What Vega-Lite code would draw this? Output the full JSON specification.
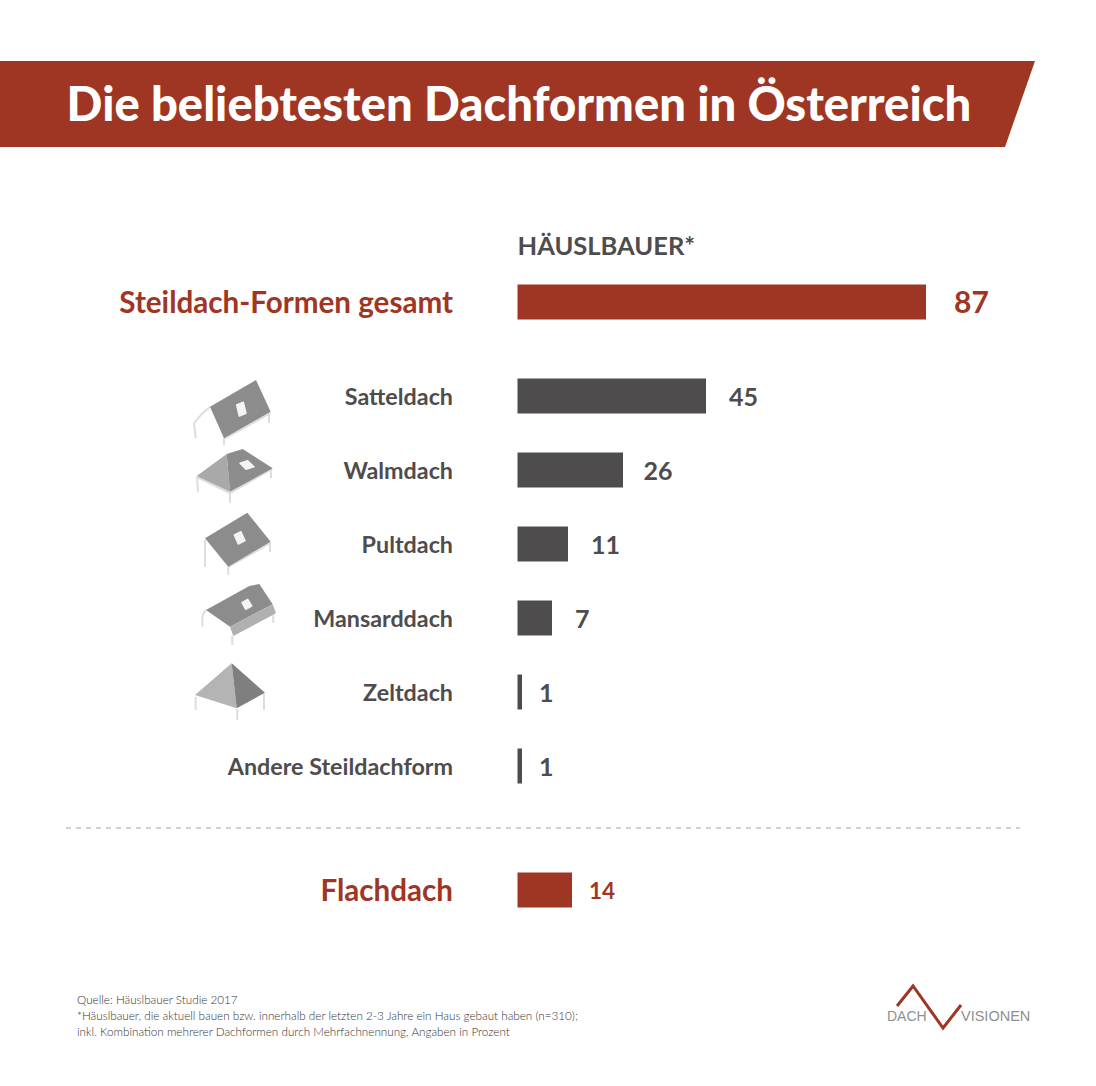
{
"$schema":"https://vega.github.io/schema/vega-lite/v6.json",
"width":1096,"height":1086,"padding":0,"autosize":{"type":"none"},"background":"white",
"config":{"axis":{"disable":true},"view":{"stroke":null},"text":{"font":"Lato","fontWeight":"bold","baseline":"middle"}},
"data":{"values":[
{"form":"Steildach-Formen gesamt","wert":87,"rang":1,"typ":"Summe"},
{"form":"Satteldach","wert":45,"rang":2,"typ":"Form"},
{"form":"Walmdach","wert":26,"rang":3,"typ":"Form"},
{"form":"Pultdach","wert":11,"rang":4,"typ":"Form"},
{"form":"Mansarddach","wert":7,"rang":5,"typ":"Form"},
{"form":"Zeltdach","wert":1,"rang":6,"typ":"Form"},
{"form":"Andere Steildachform","wert":1,"rang":7,"typ":"Form"},
{"form":"Flachdach","wert":14,"rang":8,"typ":"Summe"}
]},
"encoding":{
"x":{"field":"wert","type":"quantitative","scale":{"domain":[0,1,7,11,14,26,45,87],"range":[517.5,522,552,568,572,623,706,926],"zero":false,"nice":false}},
"y":{"field":"rang","type":"quantitative","scale":{"domain":[-1,0,1,2,3,4,5,6,7,8,9],"range":[104,246,302,396,470,544,618,692,766,890,1015],"zero":false,"nice":false,"padding":0}},
"color":{"field":"typ","type":"nominal","legend":null,"scale":{"domain":["Summe","Form"],"range":["#9f3623","#4f4c4d"]}}
},
"layer":[
{"transform":[{"filter":"datum.rang==1"}],"mark":{"type":"point","shape":"M-517.5 -43L517.5 -43L487.5 43L-517.5 43Z","size":4,"filled":true,"opacity":1},
 "encoding":{"x":{"datum":0,"scale":{"domain":[0,1,7,11,14,26,45,87],"range":[517.5,522,552,568,572,623,706,926],"zero":false,"nice":false}},"y":{"datum":-1,"scale":{"domain":[-1,0,1,2,3,4,5,6,7,8,9],"range":[104,246,302,396,470,544,618,692,766,890,1015],"zero":false,"nice":false,"padding":0}},"color":{"value":"#9f3623"}}},
{"transform":[{"filter":"datum.rang==1"}],"mark":{"type":"text","text":"Die beliebtesten Dachformen in Österreich","align":"left","fontSize":47.2,"fontWeight":900,"dy":3},
 "encoding":{"x":{"datum":-100.2,"scale":{"domain":[0,1,7,11,14,26,45,87],"range":[517.5,522,552,568,572,623,706,926],"zero":false,"nice":false}},"y":{"datum":-1,"scale":{"domain":[-1,0,1,2,3,4,5,6,7,8,9],"range":[104,246,302,396,470,544,618,692,766,890,1015],"zero":false,"nice":false,"padding":0}},"color":{"value":"white"}}},
{"transform":[{"filter":"datum.rang==1"}],"mark":{"type":"text","text":"HÄUSLBAUER*","align":"left","fontSize":25.5,"dy":1},
 "encoding":{"x":{"datum":0,"scale":{"domain":[0,1,7,11,14,26,45,87],"range":[517.5,522,552,568,572,623,706,926],"zero":false,"nice":false}},"y":{"datum":0,"scale":{"domain":[-1,0,1,2,3,4,5,6,7,8,9],"range":[104,246,302,396,470,544,618,692,766,890,1015],"zero":false,"nice":false,"padding":0}},"color":{"value":"#4f4c4d"}}},
{"mark":{"type":"bar","orient":"horizontal","size":35},"encoding":{"x":{"field":"wert","type":"quantitative","stack":null,"scale":{"domain":[0,1,7,11,14,26,45,87],"range":[517.5,522,552,568,572,623,706,926],"zero":false,"nice":false}}}},
{"mark":{"type":"text","align":"right","dy":2},
 "encoding":{"x":{"datum":-14.33,"scale":{"domain":[0,1,7,11,14,26,45,87],"range":[517.5,522,552,568,572,623,706,926],"zero":false,"nice":false}},"text":{"field":"form"},"size":{"field":"typ","type":"nominal","legend":null,"scale":{"domain":["Summe","Form"],"range":[29.6,23.3]}}}},
{"transform":[{"filter":"datum.rang==1"}],"mark":{"type":"text","align":"left","dx":28,"dy":2,"fontSize":30},"encoding":{"text":{"field":"wert"}}},
{"transform":[{"filter":"datum.rang==8"}],"mark":{"type":"text","align":"left","dx":17,"dy":2,"fontSize":22.5},"encoding":{"text":{"field":"wert"}}},
{"transform":[{"filter":"datum.typ=='Form' && datum.wert>1 && datum.wert!=26"}],"mark":{"type":"text","align":"left","dx":23,"dy":2,"fontSize":25},"encoding":{"text":{"field":"wert"}}},
{"transform":[{"filter":"datum.wert==26"}],"mark":{"type":"text","align":"left","dx":20.5,"dy":2,"fontSize":25},"encoding":{"text":{"field":"wert"}}},
{"transform":[{"filter":"datum.wert==1"}],"mark":{"type":"text","align":"left","dx":17,"dy":2,"fontSize":25},"encoding":{"text":{"field":"wert"}}},
{"transform":[{"filter":"datum.rang==2"}],"mark":{"type":"point","shape":"M-25 10.7Q-36 20 -41 27.3L-39.3 42.3M-11 42.3L-11 49M34 17L34 27M-11 43L35.7 17","size":4,"filled":false,"opacity":1,"strokeWidth":2},
 "encoding":{"x":{"datum":-62.78,"scale":{"domain":[0,1,7,11,14,26,45,87],"range":[517.5,522,552,568,572,623,706,926],"zero":false,"nice":false}},"color":{"value":"#dddddd"}}},
{"transform":[{"filter":"datum.rang==2"}],"mark":{"type":"point","shape":"M-25 10.7L21 -16L35.7 15.7L-11 42.3Z","size":4,"filled":true,"opacity":1},
 "encoding":{"x":{"datum":-62.78,"scale":{"domain":[0,1,7,11,14,26,45,87],"range":[517.5,522,552,568,572,623,706,926],"zero":false,"nice":false}},"color":{"value":"#8c8c8c"}}},
{"transform":[{"filter":"datum.rang==2"}],"mark":{"type":"point","shape":"M1.7 9L8.3 6.3L11 17.3L4.3 20Z","size":4,"filled":true,"opacity":1,"stroke":"#f4f4f4","strokeWidth":1.5,"strokeJoin":"round"},
 "encoding":{"x":{"datum":-62.78,"scale":{"domain":[0,1,7,11,14,26,45,87],"range":[517.5,522,552,568,572,623,706,926],"zero":false,"nice":false}},"color":{"value":"#f4f4f4"}}},
{"transform":[{"filter":"datum.rang==3"}],"mark":{"type":"point","shape":"M-38 7L-37 22M-5 22L-5 33M36 0L36 8M-38 7L-5 23L37 -1","size":4,"filled":false,"opacity":1,"strokeWidth":2},
 "encoding":{"x":{"datum":-62.78,"scale":{"domain":[0,1,7,11,14,26,45,87],"range":[517.5,522,552,568,572,623,706,926],"zero":false,"nice":false}},"color":{"value":"#dddddd"}}},
{"transform":[{"filter":"datum.rang==3"}],"mark":{"type":"point","shape":"M-38.3 6L-8.3 -16L-5 21.7Z","size":4,"filled":true,"opacity":1},
 "encoding":{"x":{"datum":-62.78,"scale":{"domain":[0,1,7,11,14,26,45,87],"range":[517.5,522,552,568,572,623,706,926],"zero":false,"nice":false}},"color":{"value":"#a9a9a9"}}},
{"transform":[{"filter":"datum.rang==3"}],"mark":{"type":"point","shape":"M-8.3 -16L7.7 -21L37.7 -1.7L-5 21.7Z","size":4,"filled":true,"opacity":1},
 "encoding":{"x":{"datum":-62.78,"scale":{"domain":[0,1,7,11,14,26,45,87],"range":[517.5,522,552,568,572,623,706,926],"zero":false,"nice":false}},"color":{"value":"#8c8c8c"}}},
{"transform":[{"filter":"datum.rang==3"}],"mark":{"type":"point","shape":"M5 -6.7L12.7 -9.3L19 -3.3L11 -0.7Z","size":4,"filled":true,"opacity":1,"stroke":"#f4f4f4","strokeWidth":1.5,"strokeJoin":"round"},
 "encoding":{"x":{"datum":-62.78,"scale":{"domain":[0,1,7,11,14,26,45,87],"range":[517.5,522,552,568,572,623,706,926],"zero":false,"nice":false}},"color":{"value":"#f4f4f4"}}},
{"transform":[{"filter":"datum.rang==4"}],"mark":{"type":"point","shape":"M-30 -4L-30 22.7M-6.7 23L-6.7 31M35 -1L35 8M-6.7 23L35.7 -1","size":4,"filled":false,"opacity":1,"strokeWidth":2},
 "encoding":{"x":{"datum":-62.78,"scale":{"domain":[0,1,7,11,14,26,45,87],"range":[517.5,522,552,568,572,623,706,926],"zero":false,"nice":false}},"color":{"value":"#dddddd"}}},
{"transform":[{"filter":"datum.rang==4"}],"mark":{"type":"point","shape":"M-30 -5.7L12.3 -31.3L35.7 -2.3L-6.7 22.7Z","size":4,"filled":true,"opacity":1},
 "encoding":{"x":{"datum":-62.78,"scale":{"domain":[0,1,7,11,14,26,45,87],"range":[517.5,522,552,568,572,623,706,926],"zero":false,"nice":false}},"color":{"value":"#8c8c8c"}}},
{"transform":[{"filter":"datum.rang==4"}],"mark":{"type":"point","shape":"M-0.7 -9L6 -12.3L10 -3.3L3.3 0Z","size":4,"filled":true,"opacity":1,"stroke":"#f4f4f4","strokeWidth":1.5,"strokeJoin":"round"},
 "encoding":{"x":{"datum":-62.78,"scale":{"domain":[0,1,7,11,14,26,45,87],"range":[517.5,522,552,568,572,623,706,926],"zero":false,"nice":false}},"color":{"value":"#f4f4f4"}}},
{"transform":[{"filter":"datum.rang==5"}],"mark":{"type":"point","shape":"M-29 -8Q-34 -4 -32.3 8.7M-2.7 18L-2.7 27M38.3 -3L38.3 5","size":4,"filled":false,"opacity":1,"strokeWidth":2},
 "encoding":{"x":{"datum":-62.78,"scale":{"domain":[0,1,7,11,14,26,45,87],"range":[517.5,522,552,568,572,623,706,926],"zero":false,"nice":false}},"color":{"value":"#dddddd"}}},
{"transform":[{"filter":"datum.rang==5"}],"mark":{"type":"point","shape":"M-29 -8L14.3 -32L24.3 -34L37.7 -13.7L-5 8.7Z","size":4,"filled":true,"opacity":1},
 "encoding":{"x":{"datum":-62.78,"scale":{"domain":[0,1,7,11,14,26,45,87],"range":[517.5,522,552,568,572,623,706,926],"zero":false,"nice":false}},"color":{"value":"#8c8c8c"}}},
{"transform":[{"filter":"datum.rang==5"}],"mark":{"type":"point","shape":"M-5 8.7L37.7 -13.7L41 -4.7L-1.7 18Z","size":4,"filled":true,"opacity":1},
 "encoding":{"x":{"datum":-62.78,"scale":{"domain":[0,1,7,11,14,26,45,87],"range":[517.5,522,552,568,572,623,706,926],"zero":false,"nice":false}},"color":{"value":"#b0b0b0"}}},
{"transform":[{"filter":"datum.rang==5"}],"mark":{"type":"point","shape":"M7 -15.3L12.7 -18.7L16.7 -12L10.7 -8.7Z","size":4,"filled":true,"opacity":1,"stroke":"#f4f4f4","strokeWidth":1.5,"strokeJoin":"round"},
 "encoding":{"x":{"datum":-62.78,"scale":{"domain":[0,1,7,11,14,26,45,87],"range":[517.5,522,552,568,572,623,706,926],"zero":false,"nice":false}},"color":{"value":"#f4f4f4"}}},
{"transform":[{"filter":"datum.rang==6"}],"mark":{"type":"point","shape":"M-39.3 4.7L-39.3 18M2.3 17L2.3 28M29 2L29 18","size":4,"filled":false,"opacity":1,"strokeWidth":2},
 "encoding":{"x":{"datum":-62.78,"scale":{"domain":[0,1,7,11,14,26,45,87],"range":[517.5,522,552,568,572,623,706,926],"zero":false,"nice":false}},"color":{"value":"#dddddd"}}},
{"transform":[{"filter":"datum.rang==6"}],"mark":{"type":"point","shape":"M-3.3 -28.7L-40 3L1.7 16.3Z","size":4,"filled":true,"opacity":1},
 "encoding":{"x":{"datum":-62.78,"scale":{"domain":[0,1,7,11,14,26,45,87],"range":[517.5,522,552,568,572,623,706,926],"zero":false,"nice":false}},"color":{"value":"#b4b4b4"}}},
{"transform":[{"filter":"datum.rang==6"}],"mark":{"type":"point","shape":"M-3.3 -28.7L30 0.7L1.7 16.3Z","size":4,"filled":true,"opacity":1},
 "encoding":{"x":{"datum":-62.78,"scale":{"domain":[0,1,7,11,14,26,45,87],"range":[517.5,522,552,568,572,623,706,926],"zero":false,"nice":false}},"color":{"value":"#7f7f7f"}}},
{"transform":[{"filter":"datum.rang==1"}],"mark":{"type":"rule","strokeDash":[5,5],"strokeWidth":1.5},
 "encoding":{"x":{"datum":-100.33,"scale":{"domain":[0,1,7,11,14,26,45,87],"range":[517.5,522,552,568,572,623,706,926],"zero":false,"nice":false}},"x2":{"datum":104.95},"y":{"datum":7.5,"scale":{"domain":[-1,0,1,2,3,4,5,6,7,8,9],"range":[104,246,302,396,470,544,618,692,766,890,1015],"zero":false,"nice":false,"padding":0}},"color":{"value":"#c4c4c4"}}},
{"transform":[{"filter":"datum.rang==1"}],"mark":{"type":"text","text":["Quelle: Häuslbauer Studie 2017","*Häuslbauer, die aktuell bauen bzw. innerhalb der letzten 2-3 Jahre ein Haus gebaut haben (n=310);","inkl. Kombination mehrerer Dachformen durch Mehrfachnennung, Angaben in Prozent"],"align":"left","fontSize":11.7,"fontWeight":300,"lineHeight":16,"dy":-15},
 "encoding":{"x":{"datum":-97.89,"scale":{"domain":[0,1,7,11,14,26,45,87],"range":[517.5,522,552,568,572,623,706,926],"zero":false,"nice":false}},"y":{"datum":9,"scale":{"domain":[-1,0,1,2,3,4,5,6,7,8,9],"range":[104,246,302,396,470,544,618,692,766,890,1015],"zero":false,"nice":false,"padding":0}},"color":{"value":"#333333"}}},
{"transform":[{"filter":"datum.rang==1"}],"mark":{"type":"point","shape":"M-43 -9L-27 -29L3 13L21 -10","size":4,"filled":false,"opacity":1,"strokeWidth":3},
 "encoding":{"x":{"datum":89.68,"scale":{"domain":[0,1,7,11,14,26,45,87],"range":[517.5,522,552,568,572,623,706,926],"zero":false,"nice":false}},"y":{"datum":9,"scale":{"domain":[-1,0,1,2,3,4,5,6,7,8,9],"range":[104,246,302,396,470,544,618,692,766,890,1015],"zero":false,"nice":false,"padding":0}},"color":{"value":"#9f3623"}}},
{"transform":[{"filter":"datum.rang==1"}],"mark":{"type":"text","text":"DACH","align":"left","font":"Liberation Sans","fontWeight":"normal","fontSize":14,"dy":2},
 "encoding":{"x":{"datum":79.55,"scale":{"domain":[0,1,7,11,14,26,45,87],"range":[517.5,522,552,568,572,623,706,926],"zero":false,"nice":false}},"y":{"datum":9,"scale":{"domain":[-1,0,1,2,3,4,5,6,7,8,9],"range":[104,246,302,396,470,544,618,692,766,890,1015],"zero":false,"nice":false,"padding":0}},"color":{"value":"#8f8f8f"}}},
{"transform":[{"filter":"datum.rang==1"}],"mark":{"type":"text","text":"VISIONEN","align":"left","font":"Liberation Sans","fontWeight":"normal","fontSize":14.5,"dy":2},
 "encoding":{"x":{"datum":93.68,"scale":{"domain":[0,1,7,11,14,26,45,87],"range":[517.5,522,552,568,572,623,706,926],"zero":false,"nice":false}},"y":{"datum":9,"scale":{"domain":[-1,0,1,2,3,4,5,6,7,8,9],"range":[104,246,302,396,470,544,618,692,766,890,1015],"zero":false,"nice":false,"padding":0}},"color":{"value":"#8f8f8f"}}}
]
}
